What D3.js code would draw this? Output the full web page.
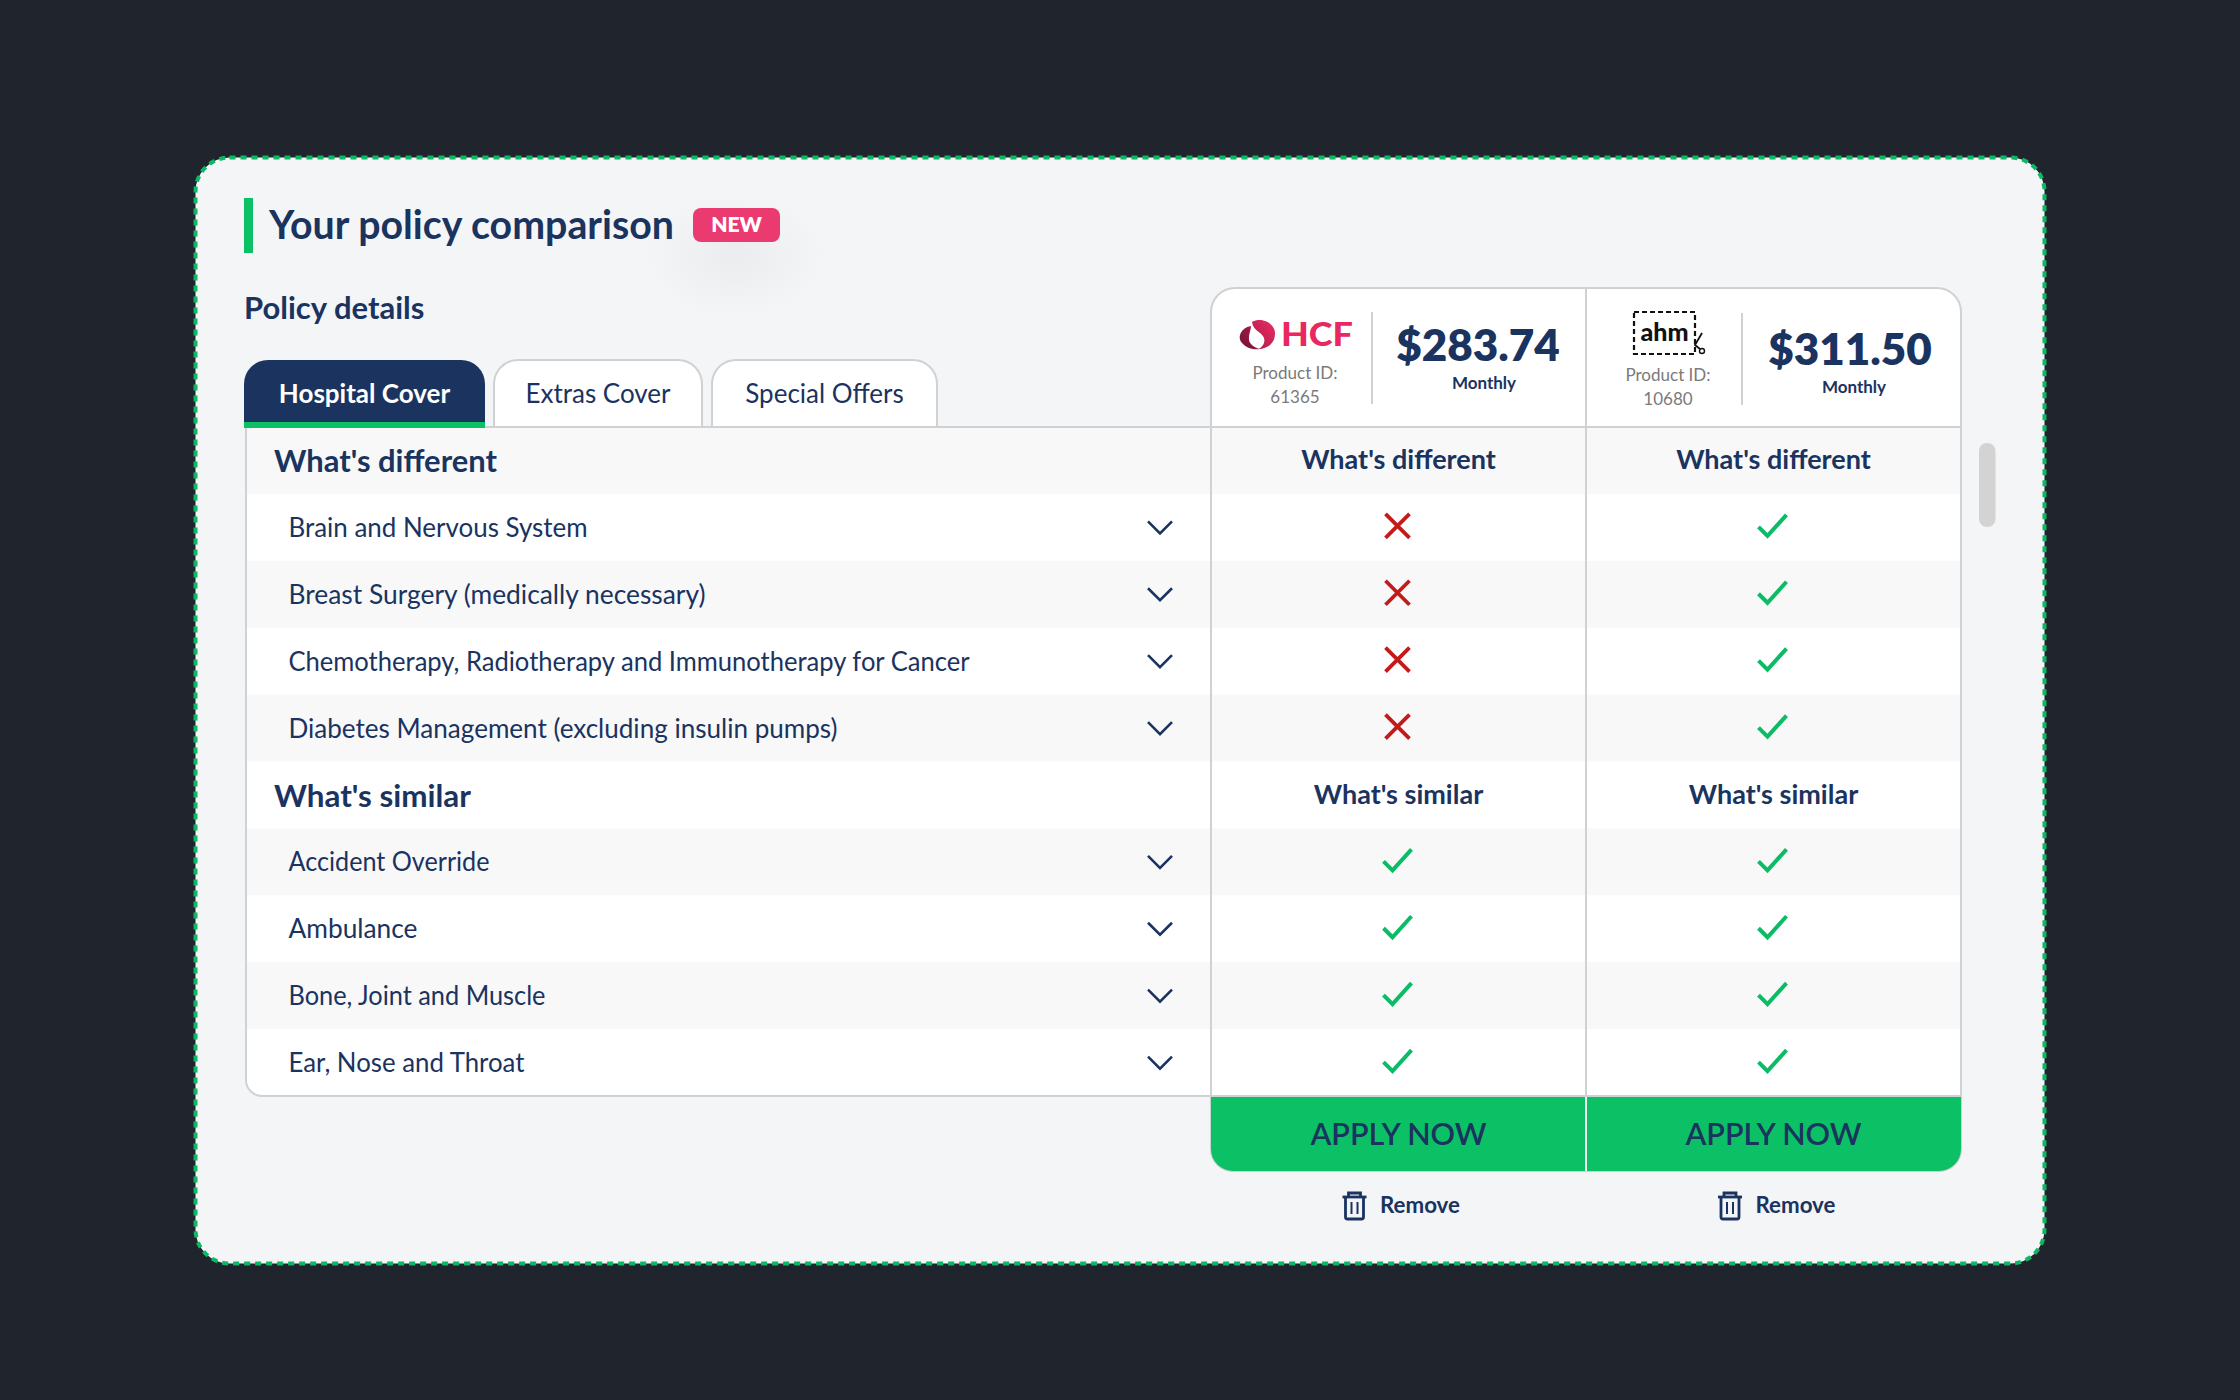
<!DOCTYPE html>
<html>
<head>
<meta charset="utf-8">
<script src="https://cdn.jsdelivr.net/npm/d3@7/dist/d3.min.js"></script>
<style>
  html, body { margin: 0; padding: 0; background: #20252d; }
  svg { display: block; }
  text { font-family: Lato, "Noto Sans", sans-serif; fill: #1a335f; }
</style>
</head>
<body>
<svg id="chart"></svg>
<script>
const width = 2240;
const height = 1400;

const navy = "#1a335f";
const green = "#0cc066";
const lineColor = "#d0d1d3";

const tabs = ["Hospital Cover", "Extras Cover", "Special Offers"];
const rowLabels = [
  "What's different",
  "Brain and Nervous System",
  "Breast Surgery (medically necessary)",
  "Chemotherapy, Radiotherapy and Immunotherapy for Cancer",
  "Diabetes Management (excluding insulin pumps)",
  "What's similar",
  "Accident Override",
  "Ambulance",
  "Bone, Joint and Muscle",
  "Ear, Nose and Throat"
];
const headingRows = ["What's different", "What's similar"];
const providers = ["HCF", "ahm"];
const prices = ["$283.74", "$311.50"];
const productIds = ["61365", "10680"];
const hcfCovered = [null, 0, 0, 0, 0, null, 1, 1, 1, 1];
const ahmCovered = [null, 1, 1, 1, 1, null, 1, 1, 1, 1];
// rendered label widths, so the substitute font runs as long as the original
const labelWidths = [223, 299, 417, 681, 549, 197, 201, 129, 257, 236];

const svg = d3.select("#chart").attr("width", width).attr("height", height);
const defs = svg.append("defs");

const glow = defs.append("radialGradient").attr("id", "glow");
glow.append("stop").attr("offset", "0%").attr("stop-color", "#ebecee");
glow.append("stop").attr("offset", "100%").attr("stop-color", "#f4f5f7");

const pinkFill = defs.append("linearGradient").attr("id", "pink-fill")
  .attr("x1", 0).attr("y1", 1).attr("x2", 1).attr("y2", 0);
pinkFill.append("stop").attr("offset", "0%").attr("stop-color", "#a81a48");
pinkFill.append("stop").attr("offset", "100%").attr("stop-color", "#ee2c66");

const darkFill = defs.append("linearGradient").attr("id", "dark-fill")
  .attr("x1", 0).attr("y1", 1).attr("x2", 1).attr("y2", 0);
darkFill.append("stop").attr("offset", "0%").attr("stop-color", "#701235");
darkFill.append("stop").attr("offset", "100%").attr("stop-color", "#b01c4c");

// scales for the table grid
const y = d3.scaleBand().domain(rowLabels).range([427, 1096]);
const x = d3.scaleBand().domain(providers).range([1211, 1961]);
const labelX = 288.5;
const headingX = 274;

// rounded-corner outlines
function topRound(x0, y0, x1, y1, r) {
  return `M${x0},${y1}V${y0 + r}A${r},${r} 0 0 1 ${x0 + r},${y0}H${x1 - r}A${r},${r} 0 0 1 ${x1},${y0 + r}V${y1}`;
}
function bottomRound(x0, y0, x1, y1, r) {
  return `M${x0},${y0}V${y1 - r}A${r},${r} 0 0 0 ${x0 + r},${y1}H${x1 - r}A${r},${r} 0 0 0 ${x1},${y1 - r}V${y0}`;
}
function addText(parent, str, px, py, size, weight, anchor, color) {
  return parent.append("text")
    .attr("x", px).attr("y", py)
    .attr("font-size", size).attr("font-weight", weight)
    .attr("text-anchor", anchor || "start")
    .style("fill", color || navy)
    .text(str);
}

// card
svg.append("rect").attr("width", width).attr("height", height).attr("fill", "#20252d");
svg.append("rect")
  .attr("x", 195.5).attr("y", 157.5).attr("width", 1849).attr("height", 1106).attr("rx", 34)
  .attr("fill", "#f4f5f7")
  .attr("stroke", "#0cb863").attr("stroke-width", 4).attr("stroke-dasharray", "6 5");

// heading
svg.append("ellipse").attr("cx", 735).attr("cy", 255).attr("rx", 90).attr("ry", 62).attr("fill", "url(#glow)");
svg.append("rect").attr("x", 244).attr("y", 198).attr("width", 9).attr("height", 55).attr("fill", green);
addText(svg, "Your policy comparison", 269, 239, 39.3, 700);
svg.append("rect").attr("x", 693).attr("y", 208).attr("width", 87).attr("height", 34).attr("rx", 8).attr("fill", "#ea3a70");
addText(svg, "NEW", 736.5, 232, 21, 800, "middle", "#fff");
addText(svg, "Policy details", 244, 319, 31, 700);

// tabs
const tabX = d3.scaleOrdinal().domain(tabs).range([[244, 485], [494, 702], [712, 937]]);
tabs.forEach((t, i) => {
  const [x0, x1] = tabX(t);
  svg.append("path")
    .attr("d", topRound(x0, 360, x1, 427, 24) + "Z")
    .attr("fill", i === 0 ? navy : "#fff");
  if (i > 0) {
    svg.append("path")
      .attr("d", topRound(x0, 360, x1, 427, 24))
      .attr("fill", "none")
      .attr("stroke", lineColor).attr("stroke-width", 2);
  }
  addText(svg, t, (x0 + x1) / 2, 402.5, 26, i === 0 ? 700 : 400, "middle", i === 0 ? "#fff" : navy);
});

// rows
const tableOutline = `M246,427V1080A16,16 0 0 0 262,1096H1961V427Z`;
defs.append("clipPath").attr("id", "table-clip").append("path").attr("d", tableOutline);

svg.append("g").attr("clip-path", "url(#table-clip)")
  .selectAll("rect")
  .data(rowLabels)
  .join("rect")
  .attr("x", 246).attr("width", 1715)
  .attr("y", (d) => y(d)).attr("height", y.bandwidth() + 0.5)
  .attr("fill", (d, i) => (i === 0 || i === 2 || i === 4 || i === 6 || i === 8 ? "#f8f8f9" : "#fff"));

const rowCenter = (d) => y(d) + y.bandwidth() / 2;
const isHeading = (d) => headingRows.includes(d);

svg.append("g").selectAll("text")
  .data(rowLabels)
  .join("text")
  .attr("x", (d) => (isHeading(d) ? headingX : labelX))
  .attr("y", (d) => rowCenter(d) + (isHeading(d) ? 12 : 9.5))
  .attr("font-size", (d) => (isHeading(d) ? 31 : 26))
  .attr("font-weight", (d) => (isHeading(d) ? 700 : 400))
  .attr("textLength", (d, i) => labelWidths[i])
  .attr("lengthAdjust", "spacingAndGlyphs")
  .text((d) => d);

// chevrons
const itemRows = rowLabels.filter((d) => !isHeading(d));
svg.append("g").selectAll("path")
  .data(itemRows)
  .join("path")
  .attr("d", "M-12,-6L0,6L12,-6")
  .attr("transform", (d) => `translate(1160,${rowCenter(d)})`)
  .attr("fill", "none").attr("stroke", navy).attr("stroke-width", 2.6);

// product header
svg.append("path")
  .attr("d", topRound(1211, 288, 1961, 427, 24) + "Z")
  .attr("fill", "#fff");

// HCF logo
const hcf = svg.append("g").attr("transform", "translate(1257,334)");
hcf.append("path")
  .attr("d", "M-5,-12C6,-18 19,-9 18,0C18,9 10,15 2,15C8,11 9,5 5,1C2,-3 -4,-4 -5,-12Z")
  .attr("fill", "url(#pink-fill)");
hcf.append("path")
  .attr("d", "M-6,-8C-17,-6 -20,4 -15,9C-10,15 -2,16 3,15C-4,13 -9,9 -8,3C-8,-1 -6,-4 -6,-8Z")
  .attr("fill", "url(#dark-fill)");
addText(svg, "HCF", 1281, 346, 33, 900, "start", "#e8285f")
  .attr("textLength", 72).attr("lengthAdjust", "spacingAndGlyphs");

// ahm logo
svg.append("rect").attr("x", 1634).attr("y", 312).attr("width", 61).attr("height", 42)
  .attr("fill", "none").attr("stroke", "#111").attr("stroke-width", 2.2).attr("stroke-dasharray", "5 3");
addText(svg, "ahm", 1664.5, 341, 25, 900, "middle", "#111");
svg.append("path").attr("d", "M1702,333L1695,345L1700,349").attr("fill", "none").attr("stroke", "#111").attr("stroke-width", 1.8);
svg.append("circle").attr("cx", 1702).attr("cy", 351).attr("r", 2.5).attr("fill", "#fff").attr("stroke", "#111").attr("stroke-width", 1.4);

const idCenter = [1295, 1668];
const idBase = [379, 381];
const dividerX = [1372, 1742];
const dividerTop = [312, 313];
const priceCenter = [1478, 1850];
const priceBase = [361, 365];
const monthlyCenter = [1484, 1854];
const monthlyBase = [389, 393];

providers.forEach((p, i) => {
  addText(svg, "Product ID:", idCenter[i], idBase[i], 17, 400, "middle", "#7a7a7a");
  addText(svg, productIds[i], idCenter[i], idBase[i] + 24, 17, 400, "middle", "#7a7a7a");
  svg.append("line").attr("x1", dividerX[i]).attr("x2", dividerX[i])
    .attr("y1", dividerTop[i]).attr("y2", dividerTop[i] + 92)
    .attr("stroke", lineColor).attr("stroke-width", 2);
  addText(svg, prices[i], priceCenter[i], priceBase[i], 44, 800, "middle");
  addText(svg, "Monthly", monthlyCenter[i], monthlyBase[i], 17, 700, "middle");
});

// coverage marks
const crossShape = "M-12,-12L12,12M12,-12L-12,12";
const checkShape = "M-14,1L-5,10L14,-11";
const coverage = { HCF: hcfCovered, ahm: ahmCovered };
const colCenter = (p) => x(p) + x.bandwidth() / 2 - 1;

providers.forEach((p) => {
  headingRows.forEach((h) => {
    addText(svg, h, colCenter(p) + 1, rowCenter(h) + 9, 27, 700, "middle");
  });
  svg.append("g").selectAll("path")
    .data(coverage[p].map((v, i) => ({ v, row: rowLabels[i] })).filter((d) => d.v !== null))
    .join("path")
    .attr("d", (d) => (d.v ? checkShape : crossShape))
    .attr("transform", (d) => `translate(${colCenter(p)},${rowCenter(d.row) - 1.5})`)
    .attr("fill", "none")
    .attr("stroke", (d) => (d.v ? "#0cbb66" : "#c51a1a"))
    .attr("stroke-width", (d) => (d.v ? 4 : 3.8));
});

// grid lines
svg.append("path").attr("d", "M246,427V1080A16,16 0 0 0 262,1096H1961").attr("fill", "none").attr("stroke", lineColor).attr("stroke-width", 2);
svg.append("path").attr("d", topRound(1211, 288, 1961, 1097, 24)).attr("fill", "none").attr("stroke", lineColor).attr("stroke-width", 2);
svg.append("line").attr("x1", 246).attr("x2", 1961).attr("y1", 427).attr("y2", 427).attr("stroke", lineColor).attr("stroke-width", 2);
svg.append("line").attr("x1", 1586).attr("x2", 1586).attr("y1", 288).attr("y2", 1097).attr("stroke", lineColor).attr("stroke-width", 2);
svg.append("rect").attr("x", 244).attr("y", 422).attr("width", 241).attr("height", 6).attr("fill", green);

// apply buttons
svg.append("path").attr("d", bottomRound(1211, 1097, 1961, 1171, 22)).attr("fill", "none").attr("stroke", "#c9d2cd").attr("stroke-width", 2);
svg.append("path").attr("d", bottomRound(1211, 1097, 1961, 1171, 22) + "Z").attr("fill", green);
svg.append("line").attr("x1", 1586).attr("x2", 1586).attr("y1", 1097).attr("y2", 1171).attr("stroke", "#eef3f0").attr("stroke-width", 2);

const trashX = [1354.5, 1730];
const removeX = [1380, 1755.5];
providers.forEach((p, i) => {
  addText(svg, "APPLY NOW", colCenter(p) + 1, 1145, 30.5, 600, "middle");
  const t = svg.append("g")
    .attr("transform", `translate(${trashX[i]},1192)`)
    .attr("fill", "none").attr("stroke", navy).attr("stroke-width", 2.8);
  t.append("path").attr("d", "M-12,5H12");
  t.append("path").attr("d", "M-6,5V1H6V5");
  t.append("path").attr("d", "M-9,5V25Q-9,27 -7,27H7Q9,27 9,25V5");
  t.append("path").attr("d", "M-3,10V22M3,10V22").attr("stroke-width", 2);
  addText(svg, "Remove", removeX[i], 1212.5, 22.3, 700);
});

// scrollbar
svg.append("rect").attr("x", 1979).attr("y", 443).attr("width", 16.5).attr("height", 84).attr("rx", 8).attr("fill", "#d3d3d3");
</script>
</body>
</html>
